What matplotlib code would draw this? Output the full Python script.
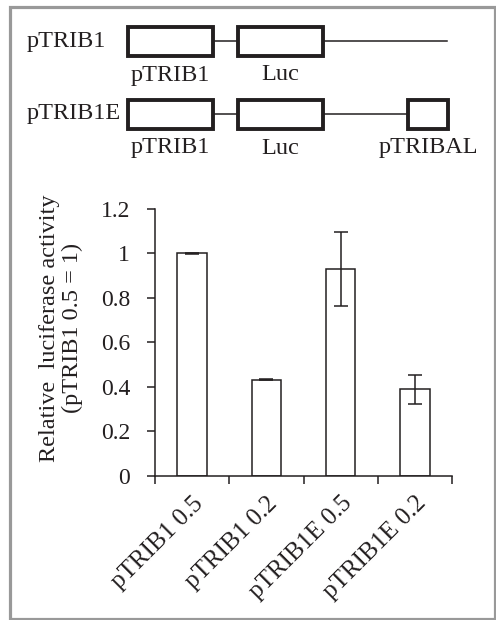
import matplotlib
matplotlib.use("Agg")
import matplotlib.pyplot as plt
import numpy as np
from matplotlib.patches import Rectangle

plt.rcParams['font.family'] = ['Liberation Serif', 'DejaVu Serif']
plt.rcParams['font.size'] = 17

# data
samples = ['pTRIB1 0.5', 'pTRIB1 0.2', 'pTRIB1E 0.5', 'pTRIB1E 0.2']
activity = [1.0, 0.431, 0.929, 0.389]
errors = [0.002, 0.002, 0.167, 0.065]

txt = '#231f20'
W, H = 496, 620
fig = plt.figure(figsize=(W / 100, H / 100), dpi=100)

# overlay axes in pixel units for the frame and construct schematic
ov = fig.add_axes([0, 0, 1, 1])
ov.set_xlim(0, W)
ov.set_ylim(H, 0)
ov.axis('off')
ov.add_patch(Rectangle((9.5, 6.5), 485, 612, fill=False, ec='#999999', lw=2.3))

def construct(y, name, parts):
    ov.text(27, y, name, ha='left', va='center', color=txt, fontsize=17.5)
    for x0, x1, lab in parts:
        ov.add_patch(Rectangle((x0, y - 14.5), x1 - x0, 29, fill=False, ec=txt, lw=2.8, zorder=3))
        ov.text((x0 + x1) / 2, y + 34, lab, ha='center', va='center', color=txt, fontsize=17.5)

construct(41, 'pTRIB1', [(128, 213, 'pTRIB1'), (238, 323, 'Luc')])
ov.plot([213, 238], [41, 41], color=txt, lw=1.1)
ov.plot([323, 447], [41, 41], color=txt, lw=1.1)

construct(114, 'pTRIB1E', [(128, 213, 'pTRIB1'), (238, 323, 'Luc'), (408, 448, 'pTRIBAL')])
ov.plot([213, 238], [114, 114], color=txt, lw=1.1)
ov.plot([323, 408], [114, 114], color=txt, lw=1.1)

# bar chart
ax = fig.add_axes([155 / W, 1 - 475.7 / H, 297 / W, 266.7 / H])
x = np.arange(len(samples))
ax.bar(x, activity, width=0.4, color='white', edgecolor=txt, linewidth=1.1, zorder=2)
ax.errorbar(x, activity, yerr=errors, fmt='none', ecolor=txt, elinewidth=1.1,
            capsize=5, capthick=1.1, zorder=3)
ax.set_xlim(-0.5, len(samples) - 0.5)
ax.set_ylim(0, 1.2)
ax.set_yticks([0, 0.2, 0.4, 0.6, 0.8, 1.0, 1.2])
ax.set_yticklabels(['0', '0.2', '0.4', '0.6', '0.8', '1', '1.2'])
ax.set_xticks(x)
ax.set_xticklabels(samples, rotation=45, ha='right', rotation_mode='anchor', fontsize=18)
ax.set_xticks(np.arange(len(samples) + 1) - 0.5, minor=True)
ax.tick_params(axis='x', which='major', length=0, pad=12, colors=txt)
ax.tick_params(axis='x', which='minor', length=6, width=1.1, direction='out', color=txt)
ax.tick_params(axis='y', length=6, width=1.1, direction='out', pad=12, colors=txt)
for s in ['top', 'right']:
    ax.spines[s].set_visible(False)
for s in ['left', 'bottom']:
    ax.spines[s].set_color(txt)
    ax.spines[s].set_linewidth(1.1)
ax.set_ylabel('Relative  luciferase activity\n(pTRIB1 0.5 = 1)', color=txt,
              fontsize=17.5, linespacing=1.1)
ax.yaxis.set_label_coords(-0.242, 0.553)

fig.savefig('out.png', dpi=100)
